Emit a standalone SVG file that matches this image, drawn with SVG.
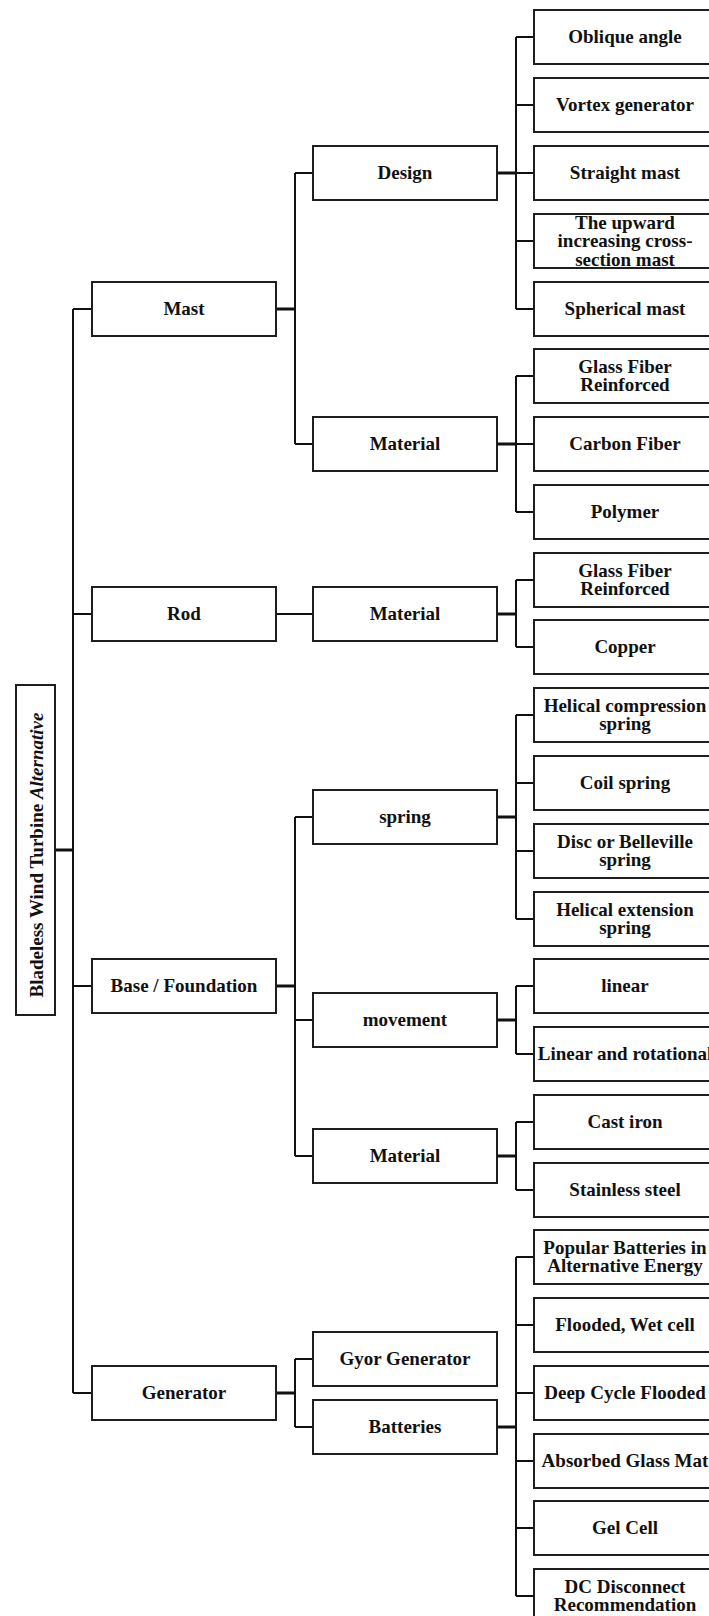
<svg xmlns="http://www.w3.org/2000/svg" width="709" height="1616" viewBox="0 0 709 1616">
<style>
.b{fill:#fff;stroke:#1e1e1e;stroke-width:2}
.t{font-family:"Liberation Serif","Times New Roman",serif;font-weight:bold;font-size:19px;fill:#111;text-anchor:middle}
.c{fill:none;stroke:#111;stroke-width:2}
.s{fill:none;stroke:#111;stroke-width:3}
</style>
<rect width="709" height="1616" fill="#fff"/>
<g id="connectors">
<path class="s" d="M55 850H73"/>
<path class="c" d="M73 309V1393M73 309H92M73 614H92M73 986H92M73 1393H92"/>
<path class="s" d="M276 309H295M276 986H295M276 1393H295"/>
<path class="c" d="M276 614H313"/>
<path class="c" d="M295 173V444M295 173H313M295 444H313"/>
<path class="c" d="M295 817V1156M295 817H313M295 1020H313M295 1156H313"/>
<path class="c" d="M295 1359V1427M295 1359H313M295 1427H313"/>
<path class="s" d="M497 173H516M497 444H516M497 614H516M497 817H516M497 1020H516M497 1156H516M497 1427H516"/>
<path class="c" d="M516 37V309M516 37H534M516 105H534M516 173H534M516 241H534M516 309H534"/>
<path class="c" d="M516 376V512M516 376H534M516 444H534M516 512H534"/>
<path class="c" d="M516 580V647M516 580H534M516 647H534"/>
<path class="c" d="M516 715V919M516 715H534M516 783H534M516 851H534M516 919H534"/>
<path class="c" d="M516 986V1054M516 986H534M516 1054H534"/>
<path class="c" d="M516 1122V1190M516 1122H534M516 1190H534"/>
<path class="c" d="M516 1257V1596M516 1257H534M516 1325H534M516 1393H534M516 1461H534M516 1528H534M516 1596H534"/>
</g>
<g id="root"><rect class="b" x="16" y="685" width="39" height="330"/>
<text class="t" transform="translate(43,855) rotate(-90)">Bladeless Wind Turbine <tspan font-style="italic">Alternative</tspan></text></g>
<g id="mast"><rect class="b" x="92" y="282" width="184" height="54"/><text class="t" x="184" y="315">Mast</text></g>
<g id="rod"><rect class="b" x="92" y="587" width="184" height="54"/><text class="t" x="184" y="620">Rod</text></g>
<g id="base"><rect class="b" x="92" y="959" width="184" height="54"/><text class="t" x="184" y="992">Base / Foundation</text></g>
<g id="generator"><rect class="b" x="92" y="1366" width="184" height="54"/><text class="t" x="184" y="1399">Generator</text></g>
<g id="design"><rect class="b" x="313" y="146" width="184" height="54"/><text class="t" x="405" y="179">Design</text></g>
<g id="mast-material"><rect class="b" x="313" y="417" width="184" height="54"/><text class="t" x="405" y="450">Material</text></g>
<g id="rod-material"><rect class="b" x="313" y="587" width="184" height="54"/><text class="t" x="405" y="620">Material</text></g>
<g id="spring"><rect class="b" x="313" y="790" width="184" height="54"/><text class="t" x="405" y="823">spring</text></g>
<g id="movement"><rect class="b" x="313" y="993" width="184" height="54"/><text class="t" x="405" y="1026">movement</text></g>
<g id="base-material"><rect class="b" x="313" y="1129" width="184" height="54"/><text class="t" x="405" y="1162">Material</text></g>
<g id="gyor"><rect class="b" x="313" y="1332" width="184" height="54"/><text class="t" x="405" y="1365">Gyor Generator</text></g>
<g id="batteries"><rect class="b" x="313" y="1400" width="184" height="54"/><text class="t" x="405" y="1433">Batteries</text></g>
<g id="leaf0"><rect class="b" x="534" y="10" width="184" height="54"/><text class="t" x="625" y="43">Oblique angle</text></g>
<g id="leaf1"><rect class="b" x="534" y="78" width="184" height="54"/><text class="t" x="625" y="111">Vortex generator</text></g>
<g id="leaf2"><rect class="b" x="534" y="146" width="184" height="54"/><text class="t" x="625" y="179">Straight mast</text></g>
<g id="leaf3"><rect class="b" x="534" y="214" width="184" height="54"/><text class="t" x="625" y="228.5">The upward<tspan x="625" dy="18.5">increasing cross-</tspan><tspan x="625" dy="18.5">section mast</tspan></text></g>
<g id="leaf4"><rect class="b" x="534" y="282" width="184" height="54"/><text class="t" x="625" y="315">Spherical mast</text></g>
<g id="leaf5"><rect class="b" x="534" y="349" width="184" height="54"/><text class="t" x="625" y="372.8">Glass Fiber<tspan x="625" dy="18.4">Reinforced</tspan></text></g>
<g id="leaf6"><rect class="b" x="534" y="417" width="184" height="54"/><text class="t" x="625" y="450">Carbon Fiber</text></g>
<g id="leaf7"><rect class="b" x="534" y="485" width="184" height="54"/><text class="t" x="625" y="518">Polymer</text></g>
<g id="leaf8"><rect class="b" x="534" y="553" width="184" height="54"/><text class="t" x="625" y="576.8">Glass Fiber<tspan x="625" dy="18.4">Reinforced</tspan></text></g>
<g id="leaf9"><rect class="b" x="534" y="620" width="184" height="54"/><text class="t" x="625" y="653">Copper</text></g>
<g id="leaf10"><rect class="b" x="534" y="688" width="184" height="54"/><text class="t" x="625" y="711.8">Helical compression<tspan x="625" dy="18.4">spring</tspan></text></g>
<g id="leaf11"><rect class="b" x="534" y="756" width="184" height="54"/><text class="t" x="625" y="789">Coil spring</text></g>
<g id="leaf12"><rect class="b" x="534" y="824" width="184" height="54"/><text class="t" x="625" y="847.8">Disc or Belleville<tspan x="625" dy="18.4">spring</tspan></text></g>
<g id="leaf13"><rect class="b" x="534" y="892" width="184" height="54"/><text class="t" x="625" y="915.8">Helical extension<tspan x="625" dy="18.4">spring</tspan></text></g>
<g id="leaf14"><rect class="b" x="534" y="959" width="184" height="54"/><text class="t" x="625" y="992">linear</text></g>
<g id="leaf15"><rect class="b" x="534" y="1027" width="184" height="54"/><text class="t" x="625" y="1060">Linear and rotational</text></g>
<g id="leaf16"><rect class="b" x="534" y="1095" width="184" height="54"/><text class="t" x="625" y="1128">Cast iron</text></g>
<g id="leaf17"><rect class="b" x="534" y="1163" width="184" height="54"/><text class="t" x="625" y="1196">Stainless steel</text></g>
<g id="leaf18"><rect class="b" x="534" y="1230" width="184" height="54"/><text class="t" x="625" y="1253.8">Popular Batteries in<tspan x="625" dy="18.4">Alternative Energy</tspan></text></g>
<g id="leaf19"><rect class="b" x="534" y="1298" width="184" height="54"/><text class="t" x="625" y="1331">Flooded, Wet cell</text></g>
<g id="leaf20"><rect class="b" x="534" y="1366" width="184" height="54"/><text class="t" x="625" y="1399">Deep Cycle Flooded</text></g>
<g id="leaf21"><rect class="b" x="534" y="1434" width="184" height="54"/><text class="t" x="625" y="1467">Absorbed Glass Mat</text></g>
<g id="leaf22"><rect class="b" x="534" y="1501" width="184" height="54"/><text class="t" x="625" y="1534">Gel Cell</text></g>
<g id="leaf23"><rect class="b" x="534" y="1569" width="184" height="54"/><text class="t" x="625" y="1592.8">DC Disconnect<tspan x="625" dy="18.4">Recommendation</tspan></text></g>
</svg>
